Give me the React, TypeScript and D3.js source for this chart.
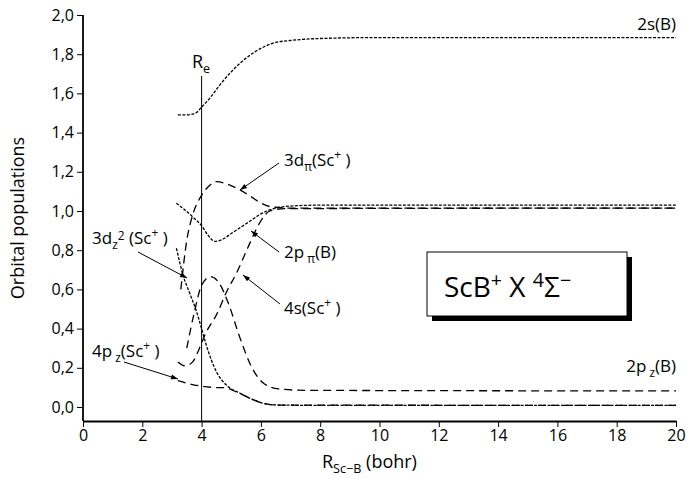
import React, { useEffect, useRef } from 'react';
import * as d3 from 'd3';

// R (bohr), population pairs
const s2B: [number, number][] = [
  [3.2, 1.49], [3.5, 1.49], [3.8, 1.5], [4.0, 1.53], [4.3, 1.58], [4.6, 1.64], [5.0, 1.71],
  [5.5, 1.78], [6.0, 1.83], [6.5, 1.86], [7.0, 1.87], [8.0, 1.88], [10, 1.885], [20, 1.885]
];
const p2pi: [number, number][] = [
  [3.15, 1.04], [3.4, 1.01], [3.7, 0.97], [4.0, 0.925], [4.2, 0.88], [4.45, 0.845], [4.7, 0.855],
  [5.0, 0.885], [5.3, 0.915], [5.6, 0.945], [6.0, 0.985], [6.5, 1.015], [7, 1.025], [8, 1.03], [20, 1.03]
];
const d3pi: [number, number][] = [
  [3.3, 0.6], [3.5, 0.85], [3.7, 0.98], [4.0, 1.08], [4.2, 1.12], [4.5, 1.15], [4.8, 1.14],
  [5.2, 1.115], [5.6, 1.08], [6.0, 1.04], [6.4, 1.02], [7, 1.015], [20, 1.015]
];
const s4: [number, number][] = [
  [3.2, 0.23], [3.45, 0.21], [3.7, 0.23], [3.9, 0.29], [4.15, 0.38], [4.5, 0.47], [4.85, 0.59],
  [5.2, 0.69], [5.55, 0.81], [6.0, 0.95], [6.3, 1.0], [6.8, 1.012], [20, 1.015]
];
const d3z2: [number, number][] = [
  [3.15, 0.81], [3.38, 0.67], [3.6, 0.58], [3.8, 0.5], [4.0, 0.4], [4.15, 0.32], [4.5, 0.18],
  [4.85, 0.11], [5.3, 0.07], [5.7, 0.04], [6.1, 0.018], [6.6, 0.01], [8, 0.008], [20, 0.008]
];
const p4z: [number, number][] = [
  [3.2, 0.135], [3.6, 0.118], [4.0, 0.106], [4.4, 0.1], [4.8, 0.098], [5.2, 0.075], [5.7, 0.04],
  [6.1, 0.018], [6.6, 0.01], [20, 0.008]
];
const p2z: [number, number][] = [
  [3.5, 0.3], [3.75, 0.48], [4.0, 0.62], [4.3, 0.665], [4.6, 0.63], [4.9, 0.53], [5.3, 0.35],
  [5.7, 0.2], [6.1, 0.12], [6.6, 0.092], [7.5, 0.085], [20, 0.082]
];

const xTicks = [0, 2, 4, 6, 8, 10, 12, 14, 16, 18, 20];
const yTicks = [0, 0.2, 0.4, 0.6, 0.8, 1.0, 1.2, 1.4, 1.6, 1.8, 2.0];
const Re = 4.0;

const FONT = "'Open Sans', 'DejaVu Sans', sans-serif";

const App = () => {
  const svgRef = useRef<SVGSVGElement>(null);

  useEffect(() => {
    const svg = d3.select(svgRef.current);
    svg.selectAll('*').remove();

    const x = d3.scaleLinear().domain([0, 20]).range([83, 676]);
    const y = d3.scaleLinear().domain([0, 2]).range([407, 15]);
    const axisY = 421;

    svg.append('defs').append('marker')
      .attr('id', 'arr')
      .attr('viewBox', '0 0 10 10')
      .attr('refX', 10).attr('refY', 5)
      .attr('markerWidth', 10).attr('markerHeight', 7)
      .attr('markerUnits', 'userSpaceOnUse')
      .attr('orient', 'auto')
      .append('path').attr('d', 'M0,1.5L10,5L0,8.5Z').attr('fill', '#000');

    // axes
    const gx = svg.append('g').attr('transform', `translate(0,${axisY})`);
    gx.call(d3.axisBottom(x).tickValues(d3.range(1, 20, 2)).tickSize(3).tickFormat(() => '').tickSizeOuter(0));
    gx.call(d3.axisBottom(x).tickValues(xTicks).tickSize(6).tickSizeOuter(0).tickFormat(d => String(d)));
    gx.selectAll('.domain').attr('stroke-width', 1.8);
    gx.selectAll('text').style('font-family', FONT).style('font-size', '16px').attr('fill', '#000');

    const gy = svg.append('g').attr('transform', `translate(${x(0)},0)`);
    gy.call(d3.axisLeft(y).tickValues(d3.range(0.1, 2, 0.2)).tickSize(3).tickFormat(() => '').tickSizeOuter(0));
    gy.call(d3.axisLeft(y).tickValues(yTicks).tickSize(6).tickSizeOuter(0)
      .tickFormat(d => (d as number).toFixed(1).replace('.', ',')));
    gy.selectAll('.domain').remove();
    gy.append('line').attr('y1', y(2)).attr('y2', axisY).attr('stroke', '#000').attr('stroke-width', 1.8);
    gy.selectAll('text').style('font-family', FONT).style('font-size', '16px').attr('fill', '#000');

    // Re line
    svg.append('line')
      .attr('x1', x(Re)).attr('x2', x(Re)).attr('y1', 76).attr('y2', axisY)
      .attr('stroke', '#000').attr('stroke-width', 1);

    const line = d3.line<[number, number]>()
      .x(d => x(d[0])).y(d => y(d[1]))
      .curve(d3.curveMonotoneX);

    const dotted = '3,1.5';
    const dashed = '8,5';
    const series: { d: [number, number][]; dash: string }[] = [
      { d: s2B, dash: dotted },
      { d: p2pi, dash: dotted },
      { d: d3z2, dash: dotted },
      { d: d3pi, dash: dashed },
      { d: s4, dash: dashed },
      { d: p4z, dash: dashed },
      { d: p2z, dash: dashed }
    ];
    svg.append('g').selectAll('path').data(series).enter().append('path')
      .attr('d', s => line(s.d))
      .attr('fill', 'none')
      .attr('stroke', '#000')
      .attr('stroke-width', 1.3)
      .attr('stroke-dasharray', s => s.dash);

    // arrows
    const arrows = [
      [279, 163, 240, 190],
      [279, 252, 251, 231],
      [280, 304, 243, 275],
      [138, 252, 187, 278],
      [124, 362, 178, 379]
    ];
    svg.append('g').selectAll('line').data(arrows).enter().append('line')
      .attr('x1', a => a[0]).attr('y1', a => a[1])
      .attr('x2', a => a[2]).attr('y2', a => a[3])
      .attr('stroke', '#000').attr('stroke-width', 1)
      .attr('marker-end', 'url(#arr)');

    const lab = (tx: number, ty: number, segs: { s: string; dy?: number; sub?: boolean }[], size = 17, anchor = 'start') => {
      const t = svg.append('text').attr('x', tx).attr('y', ty).attr('text-anchor', anchor)
        .style('font-family', FONT).style('font-size', `${size}px`).attr('fill', '#000');
      segs.forEach(g => {
        const sp = t.append('tspan').text(g.s).attr('dy', g.dy ?? 0);
        if (g.sub) sp.style('font-size', `${size * 0.7}px`);
      });
      return t;
    };

    lab(676, 30, [{ s: '2s(B)' }], 17, 'end');
    lab(192, 68, [{ s: 'R' }, { s: 'e', dy: 5, sub: true }], 18);
    lab(284, 166, [{ s: '3d' }, { s: 'π', dy: 5, sub: true }, { s: '(Sc', dy: -5 }, { s: '+', dy: -7, sub: true }, { s: ' )', dy: 7 }]);
    lab(284, 258, [{ s: '2p' }, { s: ' π', dy: 5, sub: true }, { s: '(B)', dy: -5 }]);
    lab(284, 314, [{ s: '4s(Sc' }, { s: '+', dy: -7, sub: true }, { s: ' )', dy: 7 }]);
    lab(92, 244, [{ s: '3d' }, { s: 'z', dy: 5, sub: true }, { s: '2', dy: -9, sub: true }, { s: ' (Sc', dy: 4 }, { s: '+', dy: -7, sub: true }, { s: ' )', dy: 7 }]);
    lab(92, 357, [{ s: '4p' }, { s: ' z', dy: 5, sub: true }, { s: '(Sc', dy: -5 }, { s: '+', dy: -7, sub: true }, { s: ' )', dy: 7 }]);
    lab(676, 372, [{ s: '2p' }, { s: ' z', dy: 5, sub: true }, { s: '(B)', dy: -5 }], 17, 'end');

    // state box
    svg.append('rect').attr('x', 432).attr('y', 257).attr('width', 200).attr('height', 64).attr('fill', '#000');
    svg.append('rect').attr('x', 427).attr('y', 252).attr('width', 200).attr('height', 64)
      .attr('fill', '#fff').attr('stroke', '#000').attr('stroke-width', 1);
    lab(444, 297, [{ s: 'ScB' }, { s: '+', dy: -10, sub: true }, { s: '  X  ', dy: 10 }, { s: '4', dy: -10, sub: true }, { s: 'Σ', dy: 10 }, { s: '−', dy: -10, sub: true }], 28);

    // axis titles
    svg.append('text')
      .attr('transform', `translate(24,${(y(2) + axisY) / 2}) rotate(-90)`)
      .attr('text-anchor', 'middle')
      .style('font-family', FONT).style('font-size', '18px')
      .text('Orbital populations');
    lab(322, 468, [{ s: 'R' }, { s: 'Sc−B', dy: 5, sub: true }, { s: '  (bohr)', dy: -5 }], 18);
  }, []);

  return (
    <svg
      ref={svgRef}
      width={692}
      height={479}
      style={{ position: 'absolute', left: 0, top: 0, background: '#fff' }}
    />
  );
};

export default App;
